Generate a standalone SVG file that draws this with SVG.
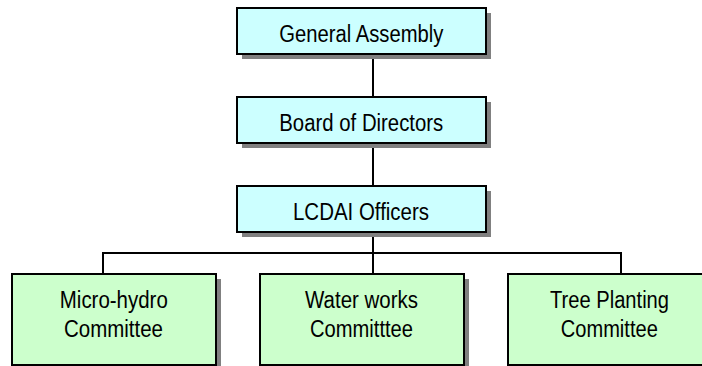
<svg xmlns="http://www.w3.org/2000/svg" width="702" height="366" viewBox="0 0 702 366">
<style>
.shadow{fill:#808080}
.top{fill:#CCFFFF;stroke:#000;stroke-width:2}
.bot{fill:#CCFFCC;stroke:#000;stroke-width:2}
text{font-family:"Liberation Sans",Arial,sans-serif;font-size:23px;fill:#000;text-anchor:middle}
.conn{stroke:#000;stroke-width:2;fill:none}
</style>
<rect width="702" height="366" fill="#fff"/>
<g id="connectors">
<line class="conn" x1="373" y1="54" x2="373" y2="97"/>
<line class="conn" x1="373" y1="143" x2="373" y2="186"/>
<line class="conn" x1="373" y1="232" x2="373" y2="274"/>
<polyline class="conn" points="103,274 103,253 621,253 621,274"/>
</g>
<g id="general-assembly">
<rect class="shadow" x="242" y="13" width="249" height="46"/>
<rect class="top" x="237" y="8" width="249" height="46"/>
<text x="361.3" y="41.5" textLength="164" lengthAdjust="spacingAndGlyphs">General Assembly</text>
</g>
<g id="board-of-directors">
<rect class="shadow" x="242" y="102" width="249" height="46"/>
<rect class="top" x="237" y="97" width="249" height="46"/>
<text x="361.3" y="130.5" textLength="164" lengthAdjust="spacingAndGlyphs">Board of Directors</text>
</g>
<g id="lcdai-officers">
<rect class="shadow" x="242" y="191" width="249" height="46"/>
<rect class="top" x="237" y="186" width="249" height="46"/>
<text x="361" y="219.5" textLength="136" lengthAdjust="spacingAndGlyphs">LCDAI Officers</text>
</g>
<g id="micro-hydro">
<rect class="shadow" x="17" y="279" width="204" height="91"/>
<rect class="bot" x="12" y="274" width="204" height="91"/>
<text x="113.8" y="308.3" textLength="108" lengthAdjust="spacingAndGlyphs">Micro-hydro</text>
<text x="113.5" y="336.5" textLength="99" lengthAdjust="spacingAndGlyphs">Committee</text>
</g>
<g id="water-works">
<rect class="shadow" x="265" y="279" width="204" height="91"/>
<rect class="bot" x="260" y="274" width="204" height="91"/>
<text x="361.5" y="308.3" textLength="113" lengthAdjust="spacingAndGlyphs">Water works</text>
<text x="361.5" y="336.5" textLength="103" lengthAdjust="spacingAndGlyphs">Committtee</text>
</g>
<g id="tree-planting">
<rect class="shadow" x="513" y="279" width="204" height="91"/>
<rect class="bot" x="508" y="274" width="204" height="91"/>
<text x="609.5" y="308.3" textLength="119" lengthAdjust="spacingAndGlyphs">Tree Planting</text>
<text x="609.3" y="336.5" textLength="97" lengthAdjust="spacingAndGlyphs">Committee</text>
</g>
</svg>
